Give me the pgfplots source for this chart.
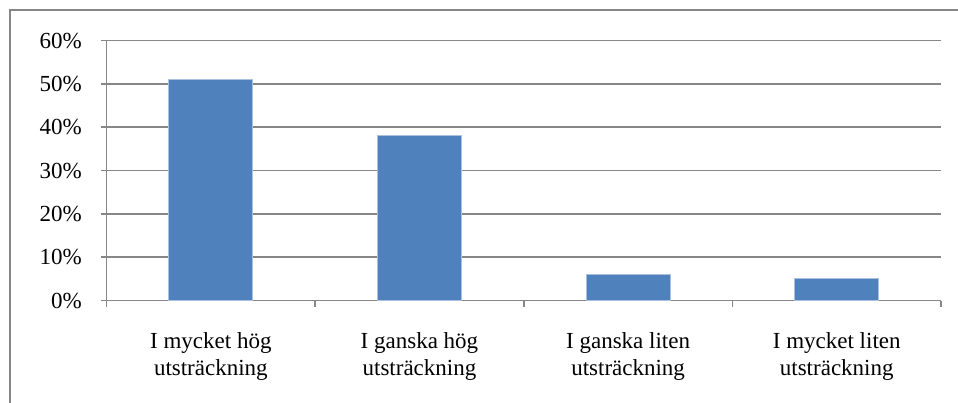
\documentclass[border=0pt]{standalone}
\usepackage{pgfplots}
\pgfplotsset{compat=1.18}
\usepackage{fontspec}
\setmainfont{Liberation Serif}
\definecolor{barblue}{HTML}{4F81BD}
\definecolor{baredge}{HTML}{A9C1DF}
\definecolor{gridgray}{HTML}{878787}
\begin{document}
\begin{tikzpicture}
\useasboundingbox (0pt,0pt) rectangle (718.5pt,-302.25pt);
\draw[gridgray, line width=1.5pt] (7.5pt,-320pt) -- (7.5pt,-7.5pt) -- (740pt,-7.5pt);
\begin{axis}[
  at={(79.9pt,-225.4pt)}, anchor=south west,
  scale only axis, width=625.9pt, height=195pt,
  xmin=-0.5, xmax=3.5, ymin=0, ymax=60,
  ybar, bar width=63pt,
  axis x line*=bottom, axis y line*=left,
  axis line style={gridgray, line width=1.1pt, -},
  ytick={0,10,20,30,40,50,60},
  yticklabels={0\%,10\%,20\%,30\%,40\%,50\%,60\%},
  ymajorgrids, major grid style={gridgray, line width=1.1pt},
  xtick={0,1,2,3},
  xticklabels={I mycket hög\\utsträckning, I ganska hög\\utsträckning, I ganska liten\\utsträckning, I mycket liten\\utsträckning},
  minor xtick={-0.5,0.5,1.5,2.5,3.5},
  tick align=outside,
  major tick length=4.5pt, minor tick length=4.5pt,
  x tick style={draw=none},
  minor x tick style={draw=gridgray, line width=1.1pt},
  y tick style={gridgray, line width=1.1pt},
  ticklabel style={font=\fontsize{17.25}{20}\selectfont, text=black},
  xticklabel style={align=center, yshift=-16pt},
  yticklabel style={xshift=-10.5pt},
]
\addplot[fill=barblue, draw=baredge, line width=0.6pt] coordinates {(0,51) (1,38) (2,6) (3,5)};
\end{axis}
\end{tikzpicture}
\end{document}
